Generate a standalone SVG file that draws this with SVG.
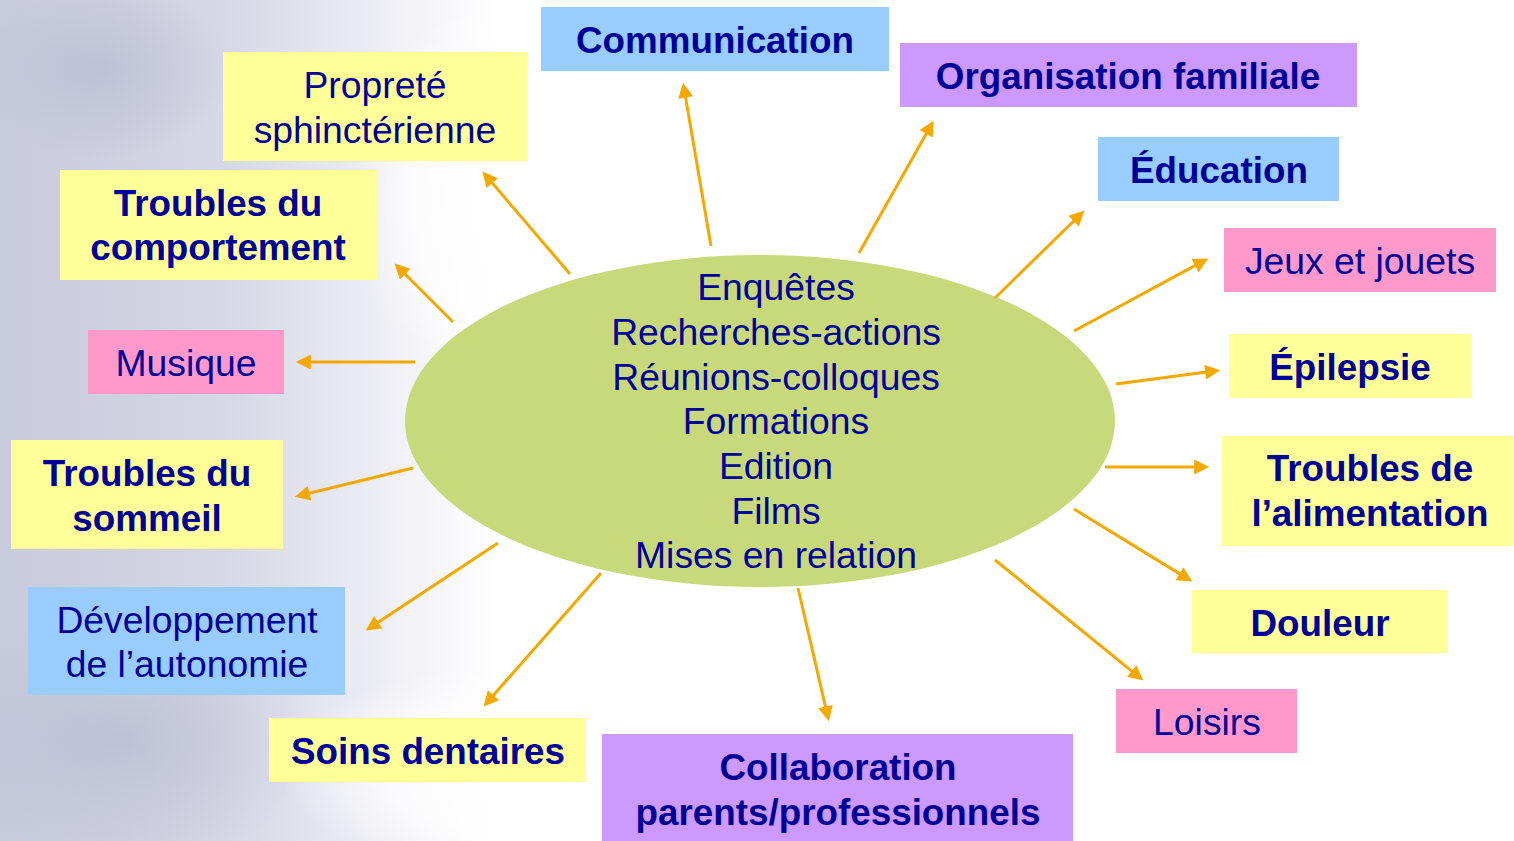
<svg xmlns="http://www.w3.org/2000/svg" width="1514" height="841" viewBox="0 0 1514 841">
<defs>
<linearGradient id="bg" x1="0" y1="0" x2="1" y2="0">
<stop offset="0" stop-color="#C8CADD"/>
<stop offset="0.15" stop-color="#D6D8E6"/>
<stop offset="0.27" stop-color="#F2F2F7"/>
<stop offset="0.33" stop-color="#FFFFFF"/>
</linearGradient>
<radialGradient id="glow" cx="0.5" cy="0.5" r="0.5">
<stop offset="0" stop-color="#FFFFFF" stop-opacity="1"/>
<stop offset="0.6" stop-color="#FFFFFF" stop-opacity="0.7"/>
<stop offset="1" stop-color="#FFFFFF" stop-opacity="0"/>
</radialGradient>
<radialGradient id="dark" cx="0.5" cy="0.5" r="0.5">
<stop offset="0" stop-color="#B4B7CE" stop-opacity="0.6"/>
<stop offset="1" stop-color="#B4B7CE" stop-opacity="0"/>
</radialGradient>
<marker id="ah" viewBox="0 0 10 10" refX="7.2" refY="5" markerWidth="18" markerHeight="15" markerUnits="userSpaceOnUse" orient="auto">
<path d="M0,0 L10,5 L0,10 z" fill="#F5A800"/>
</marker>
<style>
.t{font-family:"Liberation Sans",Arial,sans-serif;fill:#000099;text-anchor:middle;font-size:37.3px}
.b{font-weight:bold;font-size:36.8px}
.y{fill:#FFFF99}.bl{fill:#99CCFF}.p{fill:#FF99CC}.v{fill:#CC99FF}
.c line{stroke:#F5A800;stroke-width:3;marker-end:url(#ah)}
</style>
</defs>
<rect width="1514" height="841" fill="url(#bg)"/>
<ellipse cx="100" cy="70" rx="130" ry="90" fill="url(#dark)"/>
<ellipse cx="120" cy="740" rx="200" ry="130" fill="url(#dark)"/>
<ellipse cx="540" cy="770" rx="260" ry="110" fill="url(#glow)"/>
<ellipse cx="500" cy="200" rx="150" ry="200" fill="url(#glow)"/>

<g id="centre">
<ellipse cx="760" cy="421" rx="355" ry="166" fill="#C8D97B"/>
<text class="t" x="776" y="300">Enquêtes</text>
<text class="t" x="776" y="345">Recherches-actions</text>
<text class="t" x="776" y="390">Réunions-colloques</text>
<text class="t" x="776" y="434">Formations</text>
<text class="t" x="776" y="479">Edition</text>
<text class="t" x="776" y="524">Films</text>
<text class="t" x="776" y="568">Mises en relation</text>
</g>

<g class="c" id="connectors">
<line x1="711" y1="246" x2="683.8" y2="86.9"/>
<line x1="859" y1="253" x2="931.5" y2="124.4"/>
<line x1="995" y1="298" x2="1081.4" y2="213.5"/>
<line x1="1074" y1="331" x2="1204.6" y2="260.4"/>
<line x1="1116" y1="384" x2="1216" y2="370.7"/>
<line x1="1105" y1="467" x2="1205" y2="467"/>
<line x1="1074" y1="509" x2="1188.7" y2="579.4"/>
<line x1="995" y1="560" x2="1140.1" y2="677.8"/>
<line x1="798" y1="588" x2="827.9" y2="717.1"/>
<line x1="601" y1="573" x2="486.3" y2="703.3"/>
<line x1="498" y1="543" x2="369.2" y2="628.2"/>
<line x1="413" y1="468" x2="298.9" y2="495.8"/>
<line x1="415" y1="362" x2="300" y2="362"/>
<line x1="453" y1="322" x2="397.5" y2="266.5"/>
<line x1="570" y1="274" x2="485.2" y2="174.8"/>
</g>

<g id="communication"><rect class="bl" x="541" y="7" width="348" height="64"/><text class="t b" x="715" y="53">Communication</text></g>
<g id="organisation"><rect class="v" x="900" y="43" width="457" height="64"/><text class="t b" x="1128" y="89">Organisation familiale</text></g>
<g id="education"><rect class="bl" x="1098" y="137" width="241" height="64"/><text class="t b" x="1219" y="183">Éducation</text></g>
<g id="jeux"><rect class="p" x="1224" y="228" width="272" height="64"/><text class="t" x="1360" y="274">Jeux et jouets</text></g>
<g id="epilepsie"><rect class="y" x="1229" y="334" width="242" height="64"/><text class="t b" x="1350" y="380">Épilepsie</text></g>
<g id="alimentation"><rect class="y" x="1222" y="436" width="291" height="110"/><text class="t b" x="1370" y="481">Troubles de</text><text class="t b" x="1370" y="526">l’alimentation</text></g>
<g id="douleur"><rect class="y" x="1192" y="590" width="256" height="63"/><text class="t b" x="1320" y="636">Douleur</text></g>
<g id="loisirs"><rect class="p" x="1116" y="689" width="181" height="64"/><text class="t" x="1207" y="735">Loisirs</text></g>
<g id="collaboration"><rect class="v" x="602" y="734" width="471" height="107"/><text class="t b" x="838" y="780">Collaboration</text><text class="t b" x="838" y="825">parents/professionnels</text></g>
<g id="soins"><rect class="y" x="269" y="718" width="317" height="64"/><text class="t b" x="428" y="764">Soins dentaires</text></g>
<g id="developpement"><rect class="bl" x="28" y="587" width="317" height="108"/><text class="t" x="187" y="633">Développement</text><text class="t" x="187" y="677">de l’autonomie</text></g>
<g id="sommeil"><rect class="y" x="11" y="440" width="272" height="109"/><text class="t b" x="147" y="486">Troubles du</text><text class="t b" x="147" y="531">sommeil</text></g>
<g id="musique"><rect class="p" x="88" y="330" width="196" height="64"/><text class="t" x="186" y="376">Musique</text></g>
<g id="comportement"><rect class="y" x="60" y="170" width="317" height="110"/><text class="t b" x="218" y="216">Troubles du</text><text class="t b" x="218" y="260">comportement</text></g>
<g id="proprete"><rect class="y" x="223" y="52" width="304" height="109"/><text class="t" x="375" y="98">Propreté</text><text class="t" x="375" y="143">sphinctérienne</text></g>
</svg>
